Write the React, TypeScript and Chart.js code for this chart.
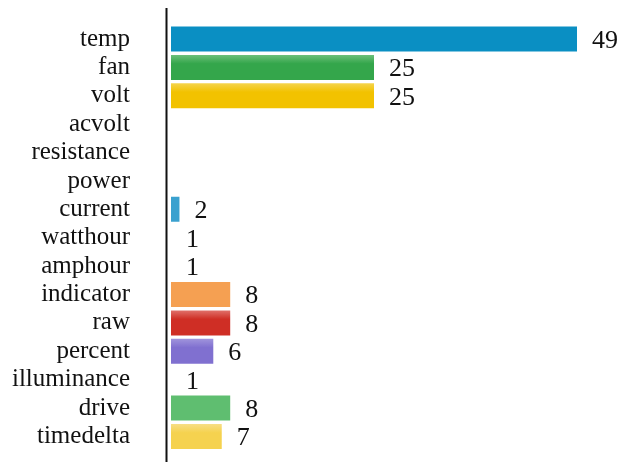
import React, { useEffect, useRef } from "react";
import { Chart, registerables } from "chart.js";

Chart.register(...registerables);

const categories = [
  "temp", "fan", "volt", "acvolt", "resistance", "power", "current",
  "watthour", "amphour", "indicator", "raw", "percent", "illuminance",
  "drive", "timedelta",
];
const counts: (number | null)[] = [49, 25, 25, null, null, null, 2, 1, 1, 8, 8, 6, 1, 8, 7];
const barColors = [
  "#0a8fc3", "#34a64b", "#f2c200", "#cccccc", "#cccccc", "#cccccc", "#3aa1cf",
  "#cccccc", "#cccccc", "#f5a052", "#cf2e25", "#8070d0", "#cccccc", "#5fbe70", "#f5d24f",
];
const topColors = [
  "#0a8fc3", "#6cc07a", "#f5d44e", "#cccccc", "#cccccc", "#cccccc", "#3aa1cf",
  "#cccccc", "#cccccc", "#f5a052", "#e0706a", "#a094dc", "#cccccc", "#5fbe70", "#f7de86",
];

const FONT = "'Liberation Serif', 'DejaVu Serif', serif";

export default function App() {
  const ref = useRef<HTMLCanvasElement | null>(null);

  useEffect(() => {
    if (!ref.current) return;

    const axisLine = {
      id: "axisLine",
      afterDraw(chart: any) {
        const { ctx, chartArea } = chart;
        ctx.save();
        ctx.fillStyle = "#111111";
        ctx.fillRect(chartArea.left - 5.5, 0, 2, chart.height);
        ctx.restore();
      },
    };

    const valueLabels = {
      id: "valueLabels",
      afterDatasetsDraw(chart: any) {
        const { ctx } = chart;
        const meta = chart.getDatasetMeta(0);
        ctx.save();
        ctx.font = `26px ${FONT}`;
        ctx.fillStyle = "#111111";
        ctx.textAlign = "left";
        ctx.textBaseline = "middle";
        meta.data.forEach((el: any, i: number) => {
          const v = counts[i];
          if (v === null || v === undefined) return;
          ctx.fillText(String(v), el.x + 15, el.y + 2);
        });
        ctx.restore();
      },
    };

    const chart = new Chart(ref.current, {
      type: "bar",
      data: {
        labels: categories,
        datasets: [
          {
            data: counts,
            base: 1,
            categoryPercentage: 0.88,
            barPercentage: 1,
            borderWidth: 0,
            backgroundColor: (c: any) => {
              const i = c.dataIndex;
              const chartObj = c.chart;
              const y = chartObj.scales && chartObj.scales.y;
              if (c.type !== "data" || !y) return barColors[i];
              const center = y.getPixelForValue(i);
              if (!Number.isFinite(center)) return barColors[i];
              const h = 25;
              const g = chartObj.ctx.createLinearGradient(0, center - h / 2, 0, center + h / 2);
              g.addColorStop(0, topColors[i]);
              g.addColorStop(0.35, barColors[i]);
              g.addColorStop(1, barColors[i]);
              return g;
            },
          } as any,
        ],
      },
      options: {
        indexAxis: "y",
        responsive: false,
        animation: false,
        layout: { padding: { left: 0, right: 3.7, top: 16.8, bottom: 11.3 } },
        plugins: {
          legend: { display: false },
          tooltip: { enabled: false },
        },
        scales: {
          x: {
            display: false,
            min: 1,
            max: 54,
          },
          y: {
            afterFit(scale: any) {
              scale.width = 163;
              scale.paddingTop = 0;
              scale.paddingBottom = 0;
            },
            grid: { display: false },
            border: { display: false },
            ticks: {
              autoSkip: false,
              padding: 33,
              color: "#111111",
              font: { family: FONT, size: 25 },
            },
          },
        },
      },
      plugins: [axisLine, valueLabels],
    });

    return () => chart.destroy();
  }, []);

  return (
    <div>
      <canvas ref={ref} width={615} height={454} style={{ display: "block" }} />
    </div>
  );
}
